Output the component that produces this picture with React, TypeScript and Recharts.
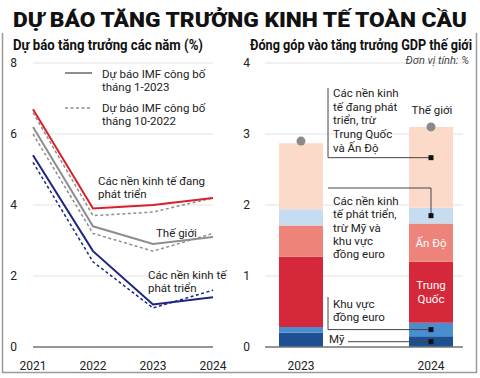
import { LineChart, Line, XAxis, YAxis, CartesianGrid, ComposedChart, Bar, LabelList } from 'recharts';

// left panel: growth forecasts (%)
const years = ['2021', '2022', '2023', '2024'];
const emergingJan = [6.7, 3.9, 4.0, 4.2];
const emergingOct = [6.6, 3.7, 3.8, 4.2];
const worldJan = [6.2, 3.4, 2.9, 3.1];
const worldOct = [6.0, 3.2, 2.7, 3.2];
const advancedJan = [5.4, 2.7, 1.2, 1.4];
const advancedOct = [5.2, 2.4, 1.1, 1.6];
const leftTicks = [0, 2, 4, 6, 8];

// right panel: contribution to world GDP growth (%)
const barYears = ['2023', '2024'];
const usShare = [0.2, 0.15];
const euroShare = [0.08, 0.19];
const chinaShare = [0.99, 0.86];
const indiaShare = [0.44, 0.54];
const advOtherShare = [0.23, 0.22];
const emOtherShare = [0.93, 1.14];
const worldTotal = [2.9, 3.1];
const rightTicks = [0, 1, 2, 3, 4];

const lineData = years.map((year, i) => ({
  year,
  emJan: emergingJan[i],
  emOct: emergingOct[i],
  wJan: worldJan[i],
  wOct: worldOct[i],
  aeJan: advancedJan[i],
  aeOct: advancedOct[i],
}));

const barData = barYears.map((year, i) => ({
  year,
  us: usShare[i],
  euro: euroShare[i],
  china: chinaShare[i],
  india: indiaShare[i],
  advOther: advOtherShare[i],
  emOther: emOtherShare[i],
  world: worldTotal[i],
}));

const RED = '#d7202b';
const GREY = '#8e8e8e';
const NAVY = '#1c2580';
const FONT = 'Roboto, "Liberation Sans", Arial, sans-serif';

const LEADER_X = 88;

const renderLeaders = (props: any) => {
  if (props.index !== 1) return null;
  const i = 1;
  const x = Number(props.x), y = Number(props.y), w = Number(props.width), h = Number(props.height);
  const unit = h / emOtherShare[i];
  const top = usShare[i] + euroShare[i] + chinaShare[i] + indiaShare[i] + advOtherShare[i] + emOtherShare[i];
  const yOf = (v: number) => y + (top - v) * unit;
  const cx = x + w / 2;
  const yUs = yOf(usShare[i] / 2);
  const yEuro = yOf(usShare[i] + euroShare[i] / 2);
  const advBase = usShare[i] + euroShare[i] + chinaShare[i] + indiaShare[i];
  const yAdv = yOf(advBase + advOtherShare[i] / 2);
  const yEm = y + h * 0.38;
  const paths = [
    `M${LEADER_X},88 V${yEm} H${cx}`,
    `M${LEADER_X},188 H${cx} V${yAdv}`,
    `M${LEADER_X},297 V${yEuro} H${cx}`,
    `M108,${yUs} H${cx}`,
  ];
  const marks = [yEm, yAdv, yEuro, yUs];
  return (
    <g>
      {paths.map((d, k) => (
        <path key={k} d={d} fill="none" stroke="#444" strokeWidth={1} />
      ))}
      {marks.map((my, k) => (
        <rect key={k} x={cx - 2.5} y={my - 2.5} width={5} height={5} fill="#111" />
      ))}
    </g>
  );
};

const inBarLabel = (lines: string[]) => (props: any) => {
  if (props.index !== 1) return null;
  const cx = Number(props.x) + Number(props.width) / 2;
  const cy = Number(props.y) + Number(props.height) / 2;
  const start = cy - ((lines.length - 1) * 14) / 2 + 4;
  return (
    <g>
      {lines.map((t, k) => (
        <text key={k} x={cx} y={start + k * 14} textAnchor="middle" fill="#fff" fontSize={11.5}>
          {t}
        </text>
      ))}
    </g>
  );
};

const T = ({ x, y, children, anchor, size, italic, fill }: any) => (
  <text
    x={x}
    y={y}
    textAnchor={anchor || 'start'}
    fontSize={size || 11.5}
    fontStyle={italic ? 'italic' : 'normal'}
    fill={fill || '#222'}
  >
    {children}
  </text>
);

export default function App() {
  return (
    <div
      style={{
        position: 'absolute',
        left: 0,
        top: 0,
        width: 480,
        height: 378,
        background: '#fff',
        fontFamily: FONT,
        overflow: 'hidden',
      }}
    >
      <div style={{ position: 'absolute', left: 0, top: 0 }}>
        <LineChart width={240} height={378} data={lineData} margin={{ top: 63, right: 27, left: 0, bottom: 0 }}>
          <CartesianGrid vertical={false} stroke="#e2e2e2" />
          <XAxis
            dataKey="year"
            height={31}
            tickLine={false}
            axisLine={{ stroke: '#777', strokeWidth: 1.5 }}
            tickMargin={8}
            tick={{ fontSize: 12, fill: '#222' }}
          />
          <YAxis
            width={33}
            domain={[0, 8]}
            ticks={leftTicks}
            interval={0}
            axisLine={false}
            tickLine={false}
            tickMargin={10}
            tick={{ fontSize: 12, fill: '#222' }}
          />
          <Line dataKey="emOct" stroke={GREY} strokeWidth={1.5} strokeDasharray="3 2.5" dot={false} isAnimationActive={false} />
          <Line dataKey="wOct" stroke={GREY} strokeWidth={1.5} strokeDasharray="3 2.5" dot={false} isAnimationActive={false} />
          <Line dataKey="aeOct" stroke={NAVY} strokeWidth={1.5} strokeDasharray="3 2.5" dot={false} isAnimationActive={false} />
          <Line dataKey="emJan" stroke={RED} strokeWidth={2} dot={false} isAnimationActive={false} />
          <Line dataKey="wJan" stroke={GREY} strokeWidth={2} dot={false} isAnimationActive={false} />
          <Line dataKey="aeJan" stroke={NAVY} strokeWidth={2} dot={false} isAnimationActive={false} />
        </LineChart>
      </div>

      <div style={{ position: 'absolute', left: 240, top: 0 }}>
        <ComposedChart width={240} height={378} data={barData} margin={{ top: 63, right: 17, left: 0, bottom: 0 }}>
          <CartesianGrid vertical={false} stroke="#e2e2e2" />
          <XAxis
            dataKey="year"
            height={31}
            padding={{ left: -29, right: -33 }}
            tickLine={false}
            axisLine={{ stroke: '#777', strokeWidth: 1.5 }}
            tickMargin={8}
            tick={{ fontSize: 12, fill: '#222' }}
          />
          <YAxis
            width={25}
            domain={[0, 4]}
            ticks={rightTicks}
            interval={0}
            axisLine={false}
            tickLine={false}
            tickMargin={9}
            tick={{ fontSize: 12, fill: '#222' }}
          />
          <Bar dataKey="us" stackId="a" fill="#1d4f93" barSize={44} isAnimationActive={false} />
          <Bar dataKey="euro" stackId="a" fill="#4a8ed0" barSize={44} isAnimationActive={false} />
          <Bar dataKey="china" stackId="a" fill="#d5283a" barSize={44} isAnimationActive={false}>
            <LabelList dataKey="china" content={inBarLabel(['Trung', 'Quốc'])} />
          </Bar>
          <Bar dataKey="india" stackId="a" fill="#ee837a" barSize={44} isAnimationActive={false}>
            <LabelList dataKey="india" content={inBarLabel(['Ấn Độ'])} />
          </Bar>
          <Bar dataKey="advOther" stackId="a" fill="#c6dcf0" barSize={44} isAnimationActive={false} />
          <Bar dataKey="emOther" stackId="a" fill="#fcdac9" barSize={44} isAnimationActive={false}>
            <LabelList dataKey="emOther" content={renderLeaders} />
          </Bar>
          <Line
            dataKey="world"
            stroke="none"
            dot={{ r: 4.5, fill: '#8a8a8a', stroke: 'none' }}
            activeDot={false}
            isAnimationActive={false}
          />
        </ComposedChart>
      </div>

      <svg
        width={480}
        height={378}
        style={{ position: 'absolute', left: 0, top: 0, pointerEvents: 'none', fontFamily: FONT }}
      >
        {/* frame */}
        <path d="M2.5,33 V372.5 H476.5 V33" fill="none" stroke="#9a9a9a" strokeWidth={1.5} />

        <text x={13} y={27} fontSize={21} fontWeight={900} fill="#111" textLength={454} lengthAdjust="spacingAndGlyphs">
          DỰ BÁO TĂNG TRƯỞNG KINH TẾ TOÀN CẦU
        </text>
        <text x={13} y={50} fontSize={14.5} fontWeight={700} fill="#111" textLength={190} lengthAdjust="spacingAndGlyphs">
          Dự báo tăng trưởng các năm (%)
        </text>
        <text x={250} y={50} fontSize={14.5} fontWeight={700} fill="#111" textLength={222} lengthAdjust="spacingAndGlyphs">
          Đóng góp vào tăng trưởng GDP thế giới
        </text>
        <T x={469} y={64} anchor="end" size={11} italic fill="#444">Đơn vị tính: %</T>

        {/* left legend */}
        <line x1={65} x2={92} y1={73} y2={73} stroke={GREY} strokeWidth={2} />
        <T x={102} y={78}>Dự báo IMF công bố</T>
        <T x={102} y={91}>tháng 1-2023</T>
        <line x1={65} x2={92} y1={108} y2={108} stroke={GREY} strokeWidth={1.5} strokeDasharray="3 2.5" />
        <T x={102} y={112}>Dự báo IMF công bố</T>
        <T x={102} y={125}>tháng 10-2022</T>

        {/* left series labels */}
        <T x={98} y={185}>Các nền kinh tế đang</T>
        <T x={98} y={198}>phát triển</T>
        <T x={156} y={237}>Thế giới</T>
        <T x={148} y={279}>Các nền kinh tế</T>
        <T x={148} y={292}>phát triển</T>

        {/* right annotations */}
        <T x={333} y={97}>Các nền kinh</T>
        <T x={333} y={111}>tế đang phát</T>
        <T x={333} y={124}>triển, trừ</T>
        <T x={333} y={138}>Trung Quốc</T>
        <T x={333} y={152}>và Ấn Độ</T>

        <T x={333} y={205}>Các nền kinh</T>
        <T x={333} y={218}>tế phát triển,</T>
        <T x={333} y={232}>trừ Mỹ và</T>
        <T x={333} y={245}>khu vực</T>
        <T x={333} y={258}>đồng euro</T>

        <T x={333} y={308}>Khu vực</T>
        <T x={333} y={321}>đồng euro</T>
        <T x={329} y={343}>Mỹ</T>

        <T x={432} y={114} anchor="middle">Thế giới</T>
      </svg>
    </div>
  );
}
